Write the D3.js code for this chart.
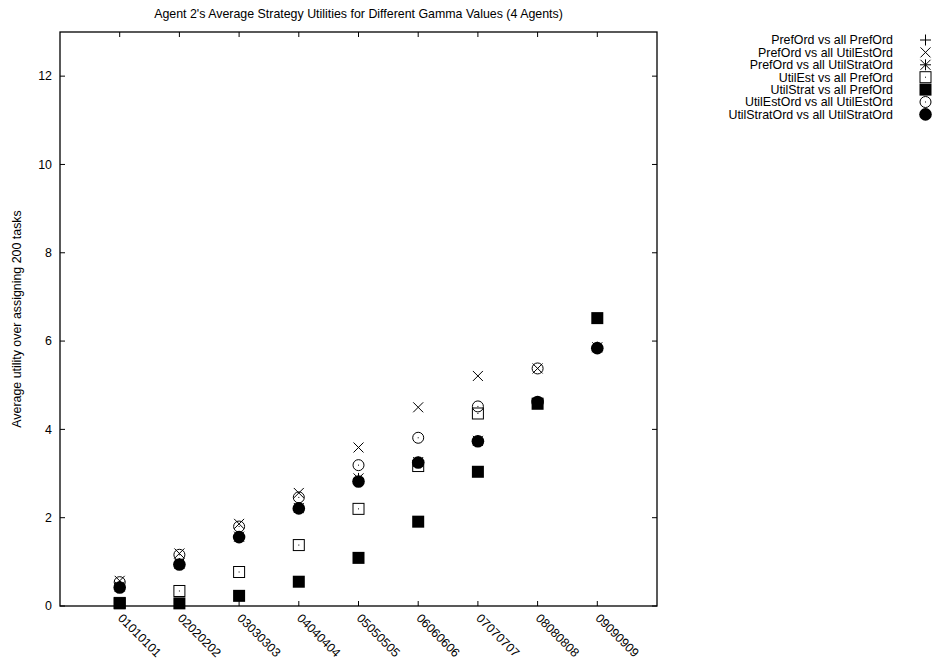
<!DOCTYPE html>
<html>
<head>
<meta charset="utf-8">
<script src="https://cdn.jsdelivr.net/npm/d3@7"></script>
<style>
  html, body { margin: 0; padding: 0; background: #fff; }
  svg { display: block; }
  text { font-family: "Liberation Sans", Arial, Helvetica, sans-serif; font-size: 12.4px; fill: #000; }
</style>
</head>
<body>
<svg id="chart" width="933" height="665"></svg>
<script>
// Gamma settings along the x axis
const categories = ["01010101", "02020202", "03030303", "04040404", "05050505",
                    "06060606", "07070707", "08080808", "09090909"];

// Average utility per strategy pairing (null = no run for that gamma)
const prefOrdVsPrefOrd         = [0.42, 0.94, 1.56, 2.21, 2.82, 3.25, 3.73, 4.60, 5.84];
const prefOrdVsUtilEstOrd      = [0.57, 1.19, 1.86, 2.56, 3.59, 4.50, 5.21, 5.38, null];
const prefOrdVsUtilStratOrd    = [0.44, 0.96, 1.57, 2.22, 2.89, 3.26, 3.74, 4.60, 5.86];
const utilEstVsPrefOrd         = [0.07, 0.34, 0.77, 1.38, 2.20, 3.17, 4.36, null, null];
const utilStratVsPrefOrd       = [0.06, 0.06, 0.23, 0.55, 1.09, 1.91, 3.04, 4.58, 6.52];
const utilEstOrdVsUtilEstOrd   = [0.54, 1.16, 1.80, 2.46, 3.19, 3.81, 4.52, 5.38, null];
const utilStratOrdVsUtilStratOrd = [0.42, 0.94, 1.56, 2.21, 2.82, 3.25, 3.73, 4.62, 5.84];

const seriesNames = [
  "PrefOrd vs all PrefOrd",
  "PrefOrd vs all UtilEstOrd",
  "PrefOrd vs all UtilStratOrd",
  "UtilEst vs all PrefOrd",
  "UtilStrat vs all PrefOrd",
  "UtilEstOrd vs all UtilEstOrd",
  "UtilStratOrd vs all UtilStratOrd"
];
const seriesValues = [
  prefOrdVsPrefOrd, prefOrdVsUtilEstOrd, prefOrdVsUtilStratOrd, utilEstVsPrefOrd,
  utilStratVsPrefOrd, utilEstOrdVsUtilEstOrd, utilStratOrdVsUtilStratOrd
];
const seriesMarkers = ["plus", "cross", "star", "dotSquare", "fillSquare", "dotCircle", "fillCircle"];

const yTicks = [0, 2, 4, 6, 8, 10, 12];

const titleText = "Agent 2's Average Strategy Utilities for Different Gamma Values (4 Agents)";
const yLabelText = "Average utility over assigning 200 tasks";

// ---- layout ----
const plot = { left: 60, right: 657, top: 32, bottom: 606 };
const svg = d3.select("#chart");

const x = d3.scaleLinear().domain([0, categories.length + 1]).range([plot.left, plot.right]);
const y = d3.scaleLinear().domain([0, 13]).range([plot.bottom, plot.top]);

// ---- marker drawing ----
const S = 6; // half size of every marker
function drawMarker(g, type, cx, cy) {
  const m = g.append("g").attr("transform", `translate(${cx},${cy})`);
  const stroke = { stroke: "#000", "stroke-width": 1, fill: "none" };
  const apply = (sel, attrs) => { for (const k in attrs) sel.attr(k, attrs[k]); return sel; };
  const h = S - 0.5;
  const d = S - 1;
  if (type === "plus" || type === "star") {
    apply(m.append("path").attr("d", `M${-h},0H${h}M0,${-h}V${h}`), stroke);
  }
  if (type === "cross" || type === "star") {
    apply(m.append("path").attr("d", `M${-d},${-d}L${d},${d}M${-d},${d}L${d},${-d}`), stroke);
  }
  if (type === "dotSquare") {
    apply(m.append("rect").attr("x", -S + 0.5).attr("y", -S + 0.5)
      .attr("width", 2 * S - 1).attr("height", 2 * S - 1), stroke);
    m.append("rect").attr("x", -0.5).attr("y", -0.5).attr("width", 1).attr("height", 1).attr("fill", "#000");
  }
  if (type === "fillSquare") {
    m.append("rect").attr("x", -S).attr("y", -S).attr("width", 2 * S).attr("height", 2 * S).attr("fill", "#000");
  }
  if (type === "dotCircle") {
    apply(m.append("circle").attr("r", S - 0.5), stroke);
    m.append("rect").attr("x", -0.5).attr("y", -0.5).attr("width", 1).attr("height", 1).attr("fill", "#000");
  }
  if (type === "fillCircle") {
    m.append("circle").attr("r", S + 0.3).attr("fill", "#000");
  }
}

// ---- frame and ticks (inward, mirrored on opposite sides) ----
const axisG = svg.append("g");
axisG.append("rect")
  .attr("x", plot.left).attr("y", plot.top)
  .attr("width", plot.right - plot.left).attr("height", plot.bottom - plot.top)
  .attr("fill", "none").attr("stroke", "#000").attr("stroke-width", 1.3);

const tickLen = 5;
yTicks.forEach(v => {
  const ty = y(v);
  axisG.append("line").attr("x1", plot.left).attr("x2", plot.left + tickLen)
    .attr("y1", ty).attr("y2", ty).attr("stroke", "#000");
  axisG.append("line").attr("x1", plot.right).attr("x2", plot.right - tickLen)
    .attr("y1", ty).attr("y2", ty).attr("stroke", "#000");
  axisG.append("text").attr("x", plot.left - 8).attr("y", ty).attr("dy", "0.35em")
    .attr("text-anchor", "end").text(v);
});

categories.forEach((c, i) => {
  const tx = x(i + 1);
  axisG.append("line").attr("x1", tx).attr("x2", tx)
    .attr("y1", plot.bottom).attr("y2", plot.bottom - tickLen).attr("stroke", "#000");
  axisG.append("line").attr("x1", tx).attr("x2", tx)
    .attr("y1", plot.top).attr("y2", plot.top + tickLen).attr("stroke", "#000");
  axisG.append("text")
    .attr("transform", `translate(${tx - 2.5},${plot.bottom + 13}) rotate(45)`)
    .attr("text-anchor", "start").text(c);
});

// ---- titles ----
svg.append("text").attr("x", (plot.left + plot.right) / 2).attr("y", 18)
  .attr("text-anchor", "middle").text(titleText);
svg.append("text")
  .attr("transform", `translate(21,${(plot.top + plot.bottom) / 2}) rotate(-90)`)
  .attr("text-anchor", "middle").text(yLabelText);

// ---- data points, drawn series by series ----
const pointsG = svg.append("g");
seriesValues.forEach((vals, si) => {
  const g = pointsG.append("g");
  vals.forEach((v, i) => {
    if (v === null) return;
    drawMarker(g, seriesMarkers[si], x(i + 1), y(v));
  });
});

// ---- legend ----
const legendG = svg.append("g");
seriesNames.forEach((name, i) => {
  const ly = 40 + i * 12.4;
  legendG.append("text").attr("x", 893).attr("y", ly).attr("dy", "0.35em")
    .attr("text-anchor", "end").text(name);
  drawMarker(legendG, seriesMarkers[i], 925.5, ly);
});
</script>
</body>
</html>
